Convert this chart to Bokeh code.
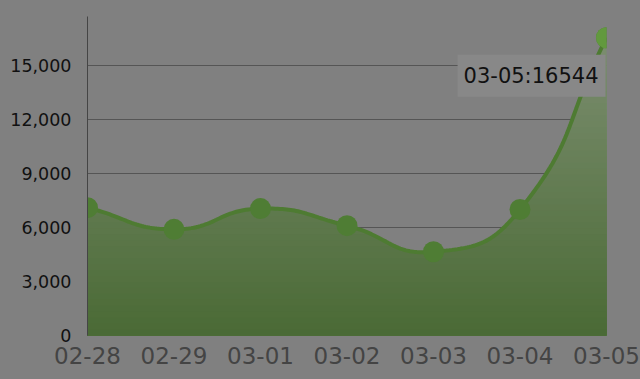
import numpy as np
from bokeh.plotting import figure
from bokeh.models import Range1d, FixedTicker, Label, NumeralTickFormatter, ColumnDataSource
from bokeh.embed import file_html
from bokeh.resources import INLINE

# ---- data ----
dates = ["02-28", "02-29", "03-01", "03-02", "03-03", "03-04", "03-05"]
values = [7100, 5900, 7050, 6100, 4650, 7000, 16544]
y_ticks = [0, 3000, 6000, 9000, 12000, 15000]
highlight_index = 6

Y_MAX = 17722
W, H = 640, 379
L, R, T, B = 87, 34, 16, 44

x_idx = list(range(len(dates)))

# pixel scale factors for smoothing (echarts-like bezier smoothing in screen space)
sx = (W - L - R) / (len(dates) - 1)
sy = (H - T - B) / Y_MAX


def smooth_curve(xs, ys, smooth=0.5, n=40):
    px = [x * sx for x in xs]
    py = [y * sy for y in ys]
    cps = []
    m = len(px)
    for i in range(m):
        pvx, pvy = (px[i - 1], py[i - 1]) if i > 0 else (px[i], py[i])
        nxx, nxy = (px[i + 1], py[i + 1]) if i < m - 1 else (px[i], py[i])
        vx, vy = (nxx - pvx) * smooth, (nxy - pvy) * smooth
        d0 = np.hypot(px[i] - pvx, py[i] - pvy)
        d1 = np.hypot(nxx - px[i], nxy - py[i])
        r = d1 / (d0 + d1) if (d0 + d1) > 0 else 0.5
        cp_in = (px[i] - vx * (1 - r), py[i] - vy * (1 - r))
        cp_out = (px[i] + vx * r, py[i] + vy * r)
        cps.append((cp_in, cp_out))
    ox, oy = [], []
    t = np.linspace(0, 1, n)
    for i in range(m - 1):
        p0 = np.array([px[i], py[i]])
        p1 = np.array(cps[i][1])
        p2 = np.array(cps[i + 1][0])
        p3 = np.array([px[i + 1], py[i + 1]])
        tt = t if i == 0 else t[1:]
        pts = ((1 - tt) ** 3)[:, None] * p0 + (3 * (1 - tt) ** 2 * tt)[:, None] * p1 \
            + (3 * (1 - tt) * tt ** 2)[:, None] * p2 + (tt ** 3)[:, None] * p3
        ox.extend(pts[:, 0] / sx)
        oy.extend(pts[:, 1] / sy)
    return np.array(ox), np.array(oy)


cx, cy = smooth_curve(x_idx, values)

p = figure(width=W, height=H, output_backend="svg", toolbar_location=None,
           x_range=Range1d(0, len(dates) - 1), y_range=Range1d(0, Y_MAX),
           min_border_left=L, min_border_right=R, min_border_top=T, min_border_bottom=B)
p.background_fill_color = "#808080"
p.border_fill_color = "#808080"
p.outline_line_color = None
p.styles = {"background-color": "#808080"}

# gradient area built from stacked layers (top colour first, lower layers over it)
top_col = np.array([0x7c, 0x8e, 0x70])
bot_col = np.array([0x4a, 0x6a, 0x35])
vmax = max(values)
nb = 50
edges = np.linspace(0, vmax, nb + 1)
for k in range(nb - 1, -1, -1):
    f = (edges[k] + edges[k + 1]) / 2 / vmax
    c = bot_col + (top_col - bot_col) * f
    col = "#%02x%02x%02x" % tuple(int(round(v)) for v in c)
    y2 = np.minimum(cy, edges[k + 1])
    p.varea(x=cx, y1=np.zeros_like(cy), y2=y2, fill_color=col, fill_alpha=1.0)

# line
p.line(cx, cy, line_color="#4e7b32", line_width=4)

src = ColumnDataSource(dict(x=x_idx, y=values))
p.scatter("x", "y", source=src, size=21, fill_color="#4f7d34", line_color=None)
p.scatter([x_idx[highlight_index]], [values[highlight_index]], size=21,
          fill_color="#62993e", line_color=None)

# tooltip label
lab = Label(x=x_idx[highlight_index], y=values[highlight_index],
            text=f"{dates[highlight_index]}:{values[highlight_index]}",
            x_offset=-1, y_offset=-38, text_align="right", text_baseline="middle",
            text_font="DejaVu Sans", text_font_size="21px", text_color="#111111",
            background_fill_color="#888888", background_fill_alpha=1.0,
            padding=dict(left=6, right=7, top=9, bottom=9))
p.add_layout(lab)

# axes
p.xaxis.ticker = FixedTicker(ticks=x_idx)
p.xaxis.major_label_overrides = {i: d for i, d in enumerate(dates)}
p.xaxis.axis_line_color = None
p.xaxis.major_tick_line_color = None
p.xaxis.minor_tick_line_color = None
p.xaxis.major_label_text_font = "DejaVu Sans"
p.xaxis.major_label_text_font_size = "23px"
p.xaxis.major_label_text_color = "#444444"
p.xaxis.major_label_standoff = 5

p.yaxis.ticker = FixedTicker(ticks=y_ticks)
p.yaxis.formatter = NumeralTickFormatter(format="0,0")
p.yaxis.axis_line_color = "#454545"
p.yaxis.major_tick_line_color = None
p.yaxis.minor_tick_line_color = None
p.yaxis.major_label_text_font = "DejaVu Sans"
p.yaxis.major_label_text_font_size = "17.5px"
p.yaxis.major_label_text_color = "#111111"
p.yaxis.major_label_standoff = 10

p.xgrid.grid_line_color = None
p.ygrid.grid_line_color = "#555555"
p.ygrid.ticker = FixedTicker(ticks=y_ticks)

open("out.html", "w").write(file_html(p, INLINE))
